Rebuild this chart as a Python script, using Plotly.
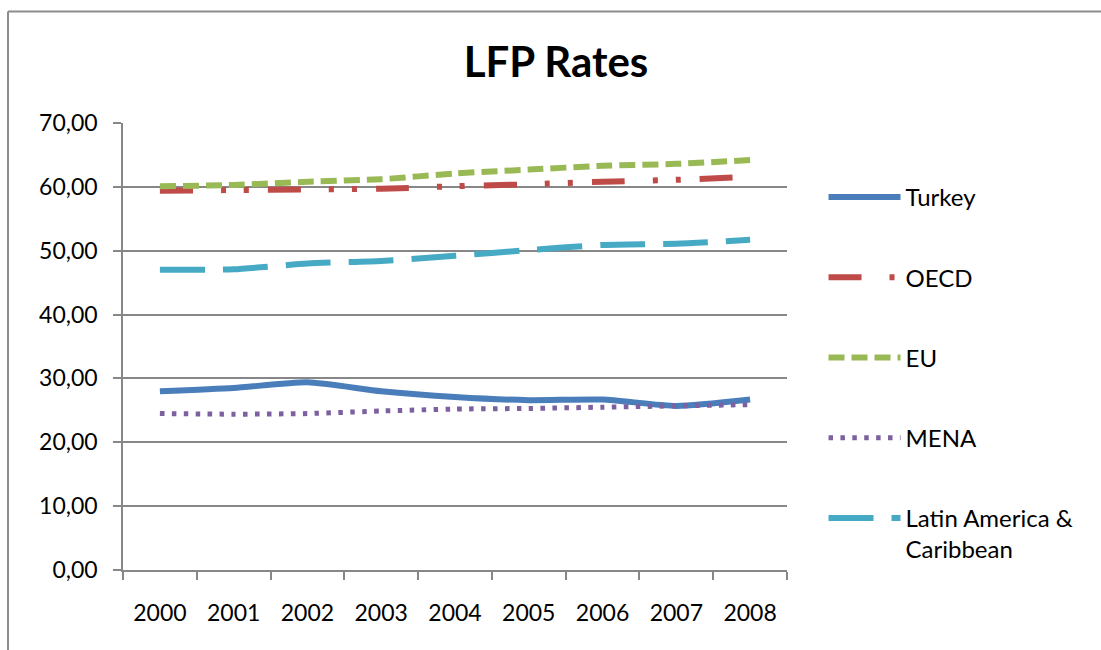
import plotly.graph_objects as go

# Labour force participation rates, 2000-2008
years = ["2000", "2001", "2002", "2003", "2004", "2005", "2006", "2007", "2008"]
turkey = [28.0, 28.5, 29.4, 28.0, 27.1, 26.6, 26.7, 25.7, 26.7]
oecd = [59.4, 59.5, 59.6, 59.7, 60.1, 60.4, 60.8, 61.1, 61.6]
eu = [60.1, 60.3, 60.8, 61.2, 62.1, 62.7, 63.3, 63.6, 64.2]
mena = [24.5, 24.4, 24.5, 24.9, 25.2, 25.3, 25.5, 25.7, 25.9]
latam = [47.0, 47.1, 48.0, 48.4, 49.2, 50.1, 50.9, 51.1, 51.7]

names = ["Turkey", "OECD", "EU", "MENA", "Latin America &<br>Caribbean"]
values = [turkey, oecd, eu, mena, latam]
colors = ["#4A7EBB", "#BE4B48", "#98B954", "#7D60A0", "#46AAC5"]
dashes = [
    "solid",
    "33px,28px,5px,18px,5px,19px",
    "16px,7px",
    "4.5px,7.4px",
    "45px,18px",
]
widths = [6, 6, 6, 5, 6]

FONT = "Lato, Calibri, sans-serif"
GRID = "#878787"

fig = go.Figure()
for i, (name, vals, col, dash, w) in enumerate(zip(names, values, colors, dashes, widths)):
    fig.add_trace(go.Scatter(
        x=years, y=vals, name=name, mode="lines",
        line=dict(color=col, width=w, dash=dash, shape="spline", smoothing=0.6),
        legendgroup=f"g{i}",
    ))

fig.update_layout(
    width=1101, height=650,
    margin=dict(l=123, r=314, t=123, b=80),
    paper_bgcolor="white", plot_bgcolor="white",
    font=dict(family=FONT, size=23, color="black"),
    separators=", ",
    title=dict(text="<b>LFP Rates</b>", x=0.505, xanchor="center",
               xref="container", y=1 - 62 / 650, yanchor="middle", yref="container",
               font=dict(family=FONT, size=42, color="black")),
    showlegend=True,
    legend=dict(x=1.055, xanchor="left", y=(570 - 175) / 447, yanchor="top",
                font=dict(family=FONT, size=24), itemwidth=72, valign="top",
                tracegroupgap=46, bgcolor="rgba(0,0,0,0)"),
    shapes=[
        dict(type="line", xref="paper", yref="paper",
             x0=-0.1732, x1=1.6, y0=1.2495, y1=1.2495,
             line=dict(color="#8C8C8C", width=2)),
        dict(type="line", xref="paper", yref="paper",
             x0=-0.1732, x1=-0.1732, y0=-0.2, y1=1.2495,
             line=dict(color="#8C8C8C", width=2)),
    ],
)

fig.update_xaxes(
    type="category", range=[-0.5, 8.5],
    showline=True, linecolor=GRID, linewidth=1.5,
    ticks="outside", tickson="boundaries", ticklen=8, tickcolor=GRID, tickwidth=1.5,
    ticklabelstandoff=22,
    showgrid=False, zeroline=False,
    tickfont=dict(family=FONT, size=23, color="black"),
)
fig.update_yaxes(
    range=[0, 70], dtick=10, tickformat=".2f",
    showline=True, linecolor=GRID, linewidth=1.5,
    ticks="outside", ticklen=8, tickcolor=GRID, tickwidth=1.5,
    ticklabelstandoff=11,
    showgrid=True, gridcolor=GRID, gridwidth=1.5, zeroline=False,
    tickfont=dict(family=FONT, size=23, color="black"),
)

fig.write_html("out.html")
